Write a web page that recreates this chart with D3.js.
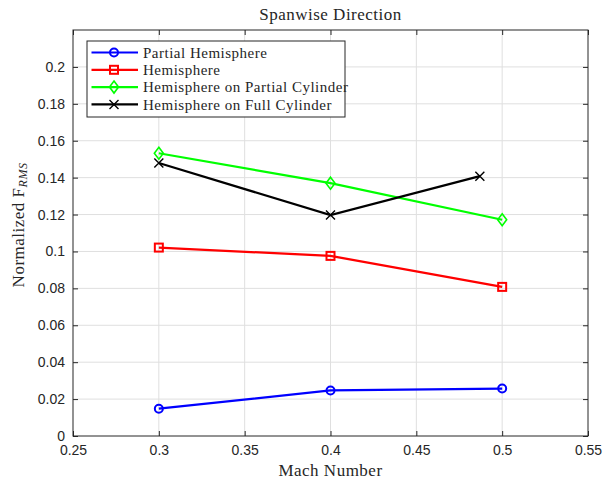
<!DOCTYPE html>
<html>
<head>
<meta charset="utf-8">
<script src="https://cdn.jsdelivr.net/npm/d3@7"></script>
<style>
  body { margin: 0; background: #fff; }
  svg { display: block; }
  .tick text { font-family: "Liberation Sans", Arial, sans-serif; font-size: 14px; fill: #262626; }
  .serif { font-family: "Liberation Serif", "Times New Roman", serif; fill: #262626; letter-spacing: 0.5px; }
</style>
</head>
<body>
<svg id="chart" width="603" height="482"></svg>
<script>
// data
const seriesNames = ["Partial Hemisphere", "Hemisphere", "Hemisphere on Partial Cylinder", "Hemisphere on Full Cylinder"];
const seriesColors = ["#0000ff", "#ff0000", "#00ff00", "#000000"];
const seriesMarkers = ["circle", "square", "diamond", "cross"];
const machPartialHemi = [0.3, 0.4, 0.5];
const valPartialHemi = [0.0148, 0.0247, 0.0257];
const machHemi = [0.3, 0.4, 0.5];
const valHemi = [0.1021, 0.0976, 0.0808];
const machHemiPartCyl = [0.3, 0.4, 0.5];
const valHemiPartCyl = [0.1532, 0.1370, 0.1172];
const machHemiFullCyl = [0.3, 0.4, 0.487];
const valHemiFullCyl = [0.1479, 0.1197, 0.1408];
const xTicks = [0.25, 0.3, 0.35, 0.4, 0.45, 0.5, 0.55];
const yTicks = [0, 0.02, 0.04, 0.06, 0.08, 0.1, 0.12, 0.14, 0.16, 0.18, 0.2];

const series = [
  [machPartialHemi, valPartialHemi],
  [machHemi, valHemi],
  [machHemiPartCyl, valHemiPartCyl],
  [machHemiFullCyl, valHemiFullCyl]
].map((s, i) => ({
  name: seriesNames[i], color: seriesColors[i], marker: seriesMarkers[i],
  pts: s[0].map((m, j) => ({ x: m, y: s[1][j] }))
}));

const svg = d3.select("#chart");
const margin = { top: 30, right: 15, bottom: 46, left: 73 };
const width = 603 - margin.left - margin.right;
const height = 482 - margin.top - margin.bottom;
const g = svg.append("g").attr("transform", "translate(" + margin.left + "," + margin.top + ")");

const xScale = d3.scaleLinear().domain([0.25, 0.55]).range([0, width]);
const yScale = d3.scaleLinear().domain([0, 0.22]).range([height, 0]);

// grid
g.append("g").selectAll("line").data(xTicks.slice(1, -1)).enter().append("line")
  .attr("x1", d => xScale(d)).attr("x2", d => xScale(d))
  .attr("y1", 0).attr("y2", height)
  .attr("stroke", "#dfdfdf").attr("stroke-width", 1);
g.append("g").selectAll("line").data(yTicks.slice(1)).enter().append("line")
  .attr("x1", 0).attr("x2", width)
  .attr("y1", d => yScale(d)).attr("y2", d => yScale(d))
  .attr("stroke", "#dfdfdf").attr("stroke-width", 1);

// axes
const fmt = d => String(+d.toFixed(2));
const xAxis = g.append("g").attr("transform", "translate(0," + height + ")")
  .call(d3.axisBottom(xScale).tickValues(xTicks).tickFormat(fmt).tickSizeInner(-5).tickSizeOuter(0).tickPadding(9));
const yAxis = g.append("g")
  .call(d3.axisLeft(yScale).tickValues(yTicks).tickFormat(fmt).tickSizeInner(-5).tickSizeOuter(0).tickPadding(8));
[xAxis, yAxis].forEach(a => {
  a.select(".domain").remove();
  a.selectAll(".tick line").attr("stroke", "#262626");
});
g.append("g").attr("transform", "translate(0,0)")
  .call(d3.axisTop(xScale).tickValues(xTicks).tickFormat("").tickSizeInner(-5).tickSizeOuter(0))
  .call(a => { a.select(".domain").remove(); a.selectAll("line").attr("stroke", "#262626"); });
g.append("g").attr("transform", "translate(" + width + ",0)")
  .call(d3.axisRight(yScale).tickValues(yTicks).tickFormat("").tickSizeInner(-5).tickSizeOuter(0))
  .call(a => { a.select(".domain").remove(); a.selectAll("line").attr("stroke", "#262626"); });

g.append("rect").attr("x", 0).attr("y", 0).attr("width", width).attr("height", height)
  .attr("fill", "none").attr("stroke", "#262626").attr("stroke-width", 1);

// marker drawing
function drawMarker(sel, type, color) {
  if (type === "circle") {
    sel.append("circle").attr("r", 4).attr("fill", "none").attr("stroke", color).attr("stroke-width", 2);
  } else if (type === "square") {
    sel.append("rect").attr("x", -4).attr("y", -4).attr("width", 8).attr("height", 8)
      .attr("fill", "none").attr("stroke", color).attr("stroke-width", 2);
  } else if (type === "diamond") {
    sel.append("path").attr("d", "M0,-6L4.5,0L0,6L-4.5,0Z")
      .attr("fill", "none").attr("stroke", color).attr("stroke-width", 1.6);
  } else {
    sel.append("path").attr("d", "M-4.5,-4.5L4.5,4.5M-4.5,4.5L4.5,-4.5")
      .attr("fill", "none").attr("stroke", color).attr("stroke-width", 1.4);
  }
}

const line = d3.line().x(d => xScale(d.x)).y(d => yScale(d.y));
series.forEach(s => {
  g.append("path").datum(s.pts).attr("d", line)
    .attr("fill", "none").attr("stroke", s.color).attr("stroke-width", 2.2);
  g.selectAll(null).data(s.pts).enter().append("g")
    .attr("transform", d => "translate(" + xScale(d.x) + "," + yScale(d.y) + ")")
    .each(function () { drawMarker(d3.select(this), s.marker, s.color); });
});

// legend
const legend = svg.append("g").attr("transform", "translate(87,41)");
legend.append("rect").attr("width", 258).attr("height", 76)
  .attr("fill", "#fff").attr("stroke", "#262626").attr("stroke-width", 1);
series.forEach((s, i) => {
  const row = legend.append("g").attr("transform", "translate(0," + (11.5 + i * 17.3) + ")");
  row.append("line").attr("x1", 4.5).attr("x2", 51).attr("stroke", s.color).attr("stroke-width", 2.2);
  drawMarker(row.append("g").attr("transform", "translate(27,0)"), s.marker, s.color);
  row.append("text").attr("class", "serif").attr("x", 56).attr("y", 0).attr("dy", "0.35em")
    .style("font-size", "15px").text(s.name);
});

// title and labels
svg.append("text").attr("class", "serif").attr("x", margin.left + width / 2).attr("y", 20)
  .attr("text-anchor", "middle").style("font-size", "17px").text("Spanwise Direction");
svg.append("text").attr("class", "serif").attr("x", margin.left + width / 2).attr("y", 476)
  .attr("text-anchor", "middle").style("font-size", "17px").text("Mach Number");
const yl = svg.append("text").attr("class", "serif")
  .attr("transform", "translate(24," + (margin.top + height / 2 - 8) + ") rotate(-90)")
  .attr("text-anchor", "middle").style("font-size", "17px");
yl.append("tspan").text("Normalized F");
yl.append("tspan").attr("dy", 3).style("font-size", "12px").style("font-style", "italic").text("RMS");
</script>
</body>
</html>
